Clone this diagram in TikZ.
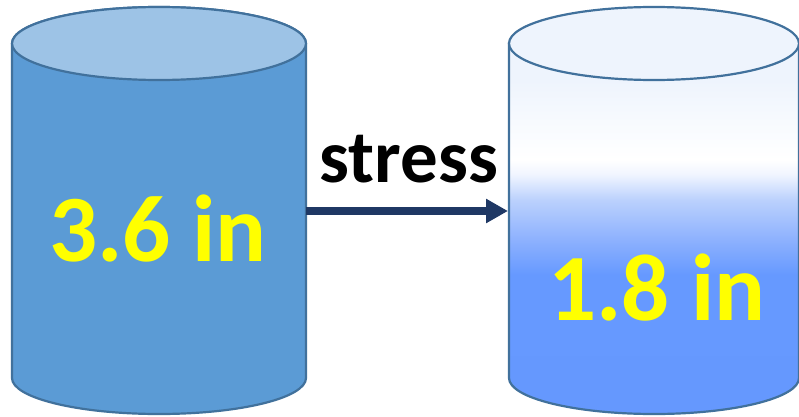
\documentclass[tikz,border=0pt]{standalone}
\usepackage{fontspec}
\setmainfont{Carlito}
\usetikzlibrary{arrows.meta}

\definecolor{rimline}{HTML}{41719C}
\definecolor{leftbody}{HTML}{5B9BD5}
\definecolor{lefttop}{HTML}{9DC3E6}
\definecolor{righttop}{HTML}{EEF4FD}
\definecolor{arrowcol}{HTML}{1F3864}
\definecolor{labelyellow}{HTML}{FFFF00}

% pale-to-blue body shading of the right cylinder (bbox maps to 25bp..75bp)
\pgfdeclareverticalshading{rightbody}{100bp}{
  color(0bp)=(rgb,255:red,100;green,151;blue,253);
  color(43.8bp)=(rgb,255:red,102;green,153;blue,255);
  color(48.5bp)=(rgb,255:red,141;green,177;blue,254);
  color(53.9bp)=(rgb,255:red,187;green,209;blue,253);
  color(57.3bp)=(rgb,255:red,240;green,245;blue,255);
  color(59.3bp)=(rgb,255:red,255;green,255;blue,255);
  color(60.6bp)=(rgb,255:red,253;green,254;blue,255);
  color(70.1bp)=(rgb,255:red,238;green,244;blue,253);
  color(100bp)=(rgb,255:red,238;green,244;blue,253)}

\tikzset{
  rim/.style={draw=rimline, line width=2.2pt},
  biglabel/.style={anchor=base, text=labelyellow, font=\fontsize{95}{95}\selectfont\bfseries, inner sep=0pt},
  stresslabel/.style={anchor=base, text=black, font=\fontsize{75}{75}\selectfont\bfseries, inner sep=0pt},
  flow/.style={draw=arrowcol, line width=8pt, -{Triangle[length=22pt,width=23pt]}}
}

\begin{document}
\begin{tikzpicture}[x=1pt,y=1pt]
  \useasboundingbox (0,0) rectangle (799,416);
  \fill[white] (0,0) rectangle (799,416);

  % left cylinder
  \path[rim, fill=leftbody]
    (12,372.5) -- (12,38) arc[start angle=180, end angle=360, x radius=147, y radius=36]
    -- (306,372.5) arc[start angle=0, end angle=180, x radius=147, y radius=36.5] -- cycle;
  \path[rim, fill=lefttop] (159,372.5) ellipse[x radius=147, y radius=36.5];

  % right cylinder
  \path[rim, shading=rightbody]
    (509,372.5) -- (509,38) arc[start angle=180, end angle=360, x radius=145, y radius=36]
    -- (799,372.5) -- cycle;
  \path[rim, fill=righttop] (654,372.5) ellipse[x radius=145, y radius=36.5];

  % labels
  \node[biglabel] (before) at (158,155) {3.6 in};
  \node[biglabel] (after) at (657,96) {1.8 in};
  \node[stresslabel] (stress) at (409,234) {stress};

  % connector between the cylinder walls
  \coordinate (lwall) at (306,205);
  \coordinate (rwall) at (508,205);
  \draw[flow] (lwall) -- (rwall);
\end{tikzpicture}
\end{document}
